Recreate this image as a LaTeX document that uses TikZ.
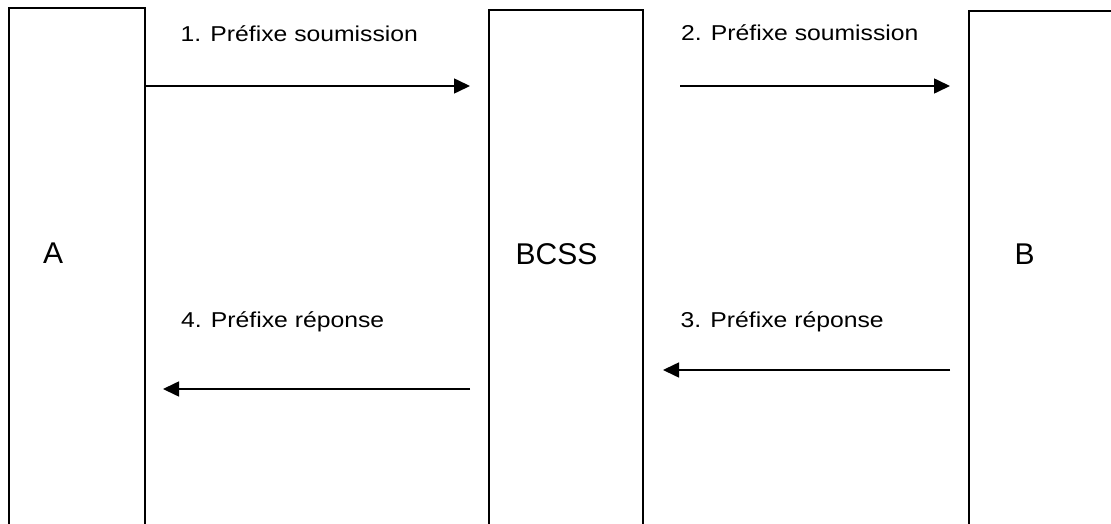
\documentclass[tikz,border=0pt]{standalone}
\usepackage{fontspec}
\setmainfont{Liberation Sans}
\newfontfamily\msgfont[FakeStretch=1.15]{Liberation Sans}
\usetikzlibrary{arrows.meta}
\begin{document}
\begin{tikzpicture}[x = 1pt, y = -1pt]
		\tikzstyle{every node} = [inner sep = 0pt, anchor = base west]
		\tikzstyle{box} = [draw, line width = 1.9pt, minimum height = 580pt, anchor = north west]
		\tikzstyle{actor} = [font = \fontsize{30}{36}\selectfont]
		\tikzstyle{msg} = [font = \msgfont\fontsize{21.5}{25}\selectfont]
		\tikzstyle{flow} = [line width = 1.6pt, -{Triangle[length = 16pt, width = 15pt]}]
		\useasboundingbox (0,0) rectangle (1111,524);
		\clip (0,0) rectangle (1111,524);
		
		\node [box, minimum width = 136pt] (A) at (8,7) {};
		\node [box, minimum width = 154pt] (BCSS) at (488,9) {};
		\node [box, minimum width = 180pt] (B) at (968,10) {};
		
		\node [actor] (nA) at (43,263.5) {A};
		\node [actor] (nBCSS) at (515.5,264.5) {BCSS};
		\node [actor] (nB) at (1014.5,264.5) {B};
		
		\coordinate (t1) at (470,86); %tip 1
		\coordinate (s2) at (680,86); %start 2
		\coordinate (t2) at (950,86); %tip 2
		\coordinate (s3) at (950,370); %start 3
		\coordinate (t3) at (663,370); %tip 3
		\coordinate (s4) at (470,389); %start 4
		\coordinate (t4) at (163,389); %tip 4
		
		\draw [flow] (A.east |- t1) -- (t1); %A to BCSS
		\draw [flow] (s2) -- (t2); %BCSS to B
		\draw [flow] (s3) -- (t3); %B to BCSS
		\draw [flow] (s4) -- (t4); %BCSS to A
		
		\node [msg] (m1) at (180.5,41.5) {1. Préfixe soumission};
		\node [msg] (m2) at (681,41) {2. Préfixe soumission};
		\node [msg] (m3) at (680.5,327) {3. Préfixe réponse};
		\node [msg] (m4) at (181,327) {4. Préfixe réponse};
\end{tikzpicture}
\end{document}
